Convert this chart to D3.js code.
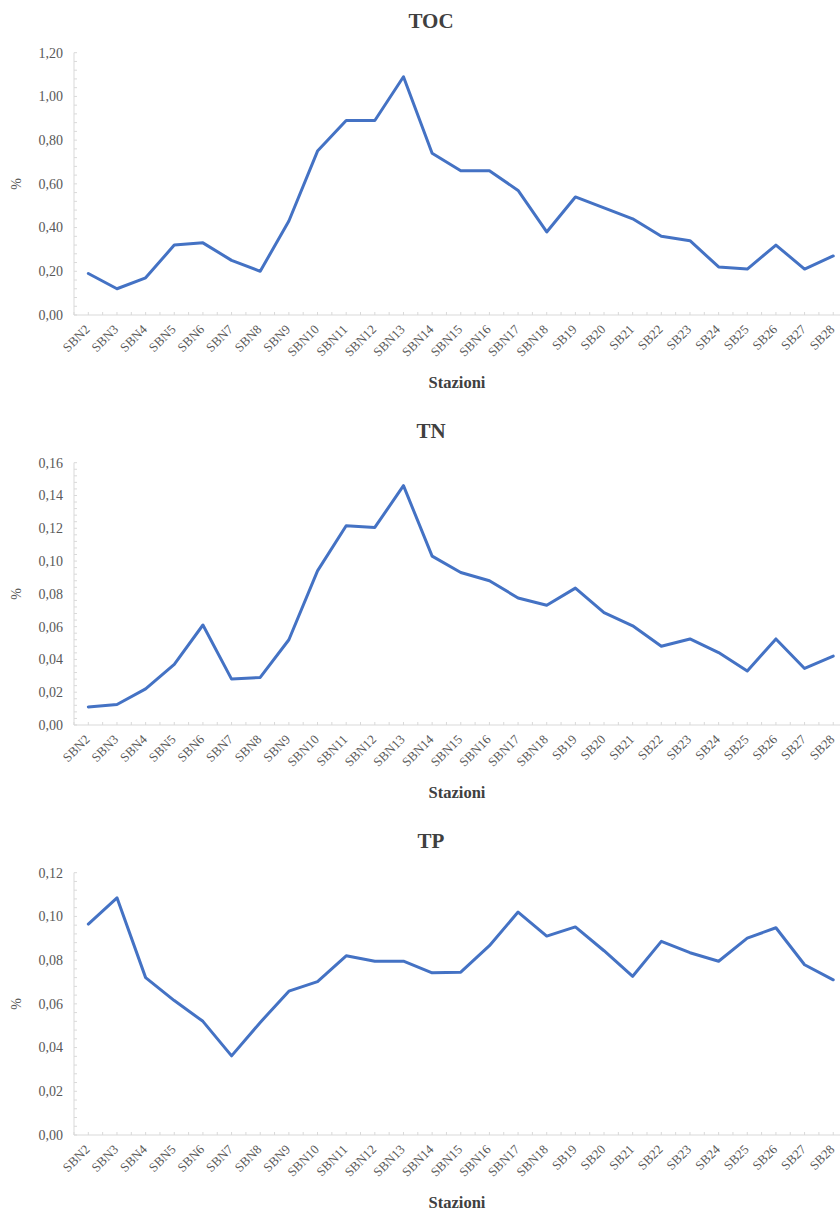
<!DOCTYPE html>
<html>
<head>
<meta charset="utf-8">
<script src="https://cdn.jsdelivr.net/npm/d3@7"></script>
<style>
  html, body { margin: 0; padding: 0; background: #fff; }
  svg { display: block; }
</style>
</head>
<body>
<div id="chart"></div>
<script>
const stations = ["SBN2","SBN3","SBN4","SBN5","SBN6","SBN7","SBN8","SBN9","SBN10","SBN11","SBN12","SBN13","SBN14","SBN15","SBN16","SBN17","SBN18","SB19","SB20","SB21","SB22","SB23","SB24","SB25","SB26","SB27","SB28"];

const tocValues = [0.19,0.12,0.17,0.32,0.33,0.25,0.20,0.43,0.75,0.89,0.89,1.09,0.74,0.66,0.66,0.57,0.38,0.54,0.49,0.44,0.36,0.34,0.22,0.21,0.32,0.21,0.27];
const tnValues  = [0.011,0.0125,0.022,0.037,0.061,0.028,0.029,0.052,0.094,0.1215,0.1205,0.146,0.103,0.093,0.088,0.0775,0.073,0.0835,0.0685,0.0605,0.048,0.0525,0.0442,0.033,0.0525,0.0345,0.042];
const tpValues  = [0.0965,0.1085,0.072,0.0615,0.052,0.0362,0.0515,0.0658,0.0702,0.082,0.0795,0.0795,0.0742,0.0745,0.0866,0.102,0.091,0.0952,0.0843,0.0726,0.0886,0.0834,0.0795,0.0901,0.0948,0.0779,0.071];

const tocTicks = [0,0.2,0.4,0.6,0.8,1.0,1.2];
const tnTicks  = [0,0.02,0.04,0.06,0.08,0.10,0.12,0.14,0.16];
const tpTicks  = [0,0.02,0.04,0.06,0.08,0.10,0.12];

const panels = [
  { title: "TOC", values: tocValues, ticks: tocTicks, max: 1.2 },
  { title: "TN",  values: tnValues,  ticks: tnTicks,  max: 0.16 },
  { title: "TP",  values: tpValues,  ticks: tpTicks,  max: 0.12 }
];

const W = 840, H = 1214;
const svg = d3.select("#chart").append("svg").attr("width", W).attr("height", H);

const FONT = "'Liberation Serif', 'Times New Roman', serif";
const lineColor = "#4472C4";
const axisColor = "#d9d9d9";
const labelColor = "#595959";

const left = 74, bandW = 28.65;
const x = d3.scalePoint().domain(stations).range([left + bandW/2, left + bandW*26.5]);
const fmt = v => v.toFixed(2).replace(".", ",");

panels.forEach((p, i) => {
  const off = i * 410;
  const top = 52.7 + off, bottom = 315 + off;
  const y = d3.scaleLinear().domain([0, p.max]).range([bottom, top]);
  const g = svg.append("g");

  // title
  g.append("text").attr("x", 431).attr("y", 28 + off)
    .attr("text-anchor", "middle").attr("font-family", FONT)
    .attr("font-weight", "bold").attr("font-size", 21).attr("fill", "#404040")
    .text(p.title);

  // y axis line
  g.append("line").attr("x1", left).attr("x2", left).attr("y1", top).attr("y2", bottom)
    .attr("stroke", axisColor).attr("stroke-width", 1);
  // y minor ticks
  const step = p.ticks[1] - p.ticks[0];
  const minor = d3.range(0, p.max + step/10, step/5);
  g.selectAll(".ym").data(minor).enter().append("line")
    .attr("x1", left).attr("x2", left + 3)
    .attr("y1", d => y(d)).attr("y2", d => y(d))
    .attr("stroke", axisColor).attr("stroke-width", 1);
  // y labels
  g.selectAll(".yl").data(p.ticks).enter().append("text")
    .attr("x", left - 11).attr("y", d => y(d)).attr("dy", "0.35em")
    .attr("text-anchor", "end").attr("font-family", FONT).attr("font-size", 14)
    .attr("fill", labelColor).text(fmt);

  // x axis line
  g.append("line").attr("x1", left).attr("x2", left + bandW*27).attr("y1", bottom).attr("y2", bottom)
    .attr("stroke", axisColor).attr("stroke-width", 1);
  // x ticks (band boundaries and centers)
  const xt = d3.range(0, 55).map(k => left + k * bandW/2);
  g.selectAll(".xt").data(xt).enter().append("line")
    .attr("x1", d => d).attr("x2", d => d).attr("y1", bottom).attr("y2", bottom - 3)
    .attr("stroke", axisColor).attr("stroke-width", 1);
  // x labels
  g.selectAll(".xl").data(stations).enter().append("text")
    .attr("transform", d => `translate(${x(d) - 1},${bottom + 12}) rotate(-45)`)
    .attr("text-anchor", "end").attr("dy", "0.35em")
    .attr("font-family", FONT).attr("font-size", 13).attr("fill", labelColor)
    .text(d => d);

  // axis titles
  g.append("text").attr("x", 457).attr("y", 388 + off)
    .attr("text-anchor", "middle").attr("font-family", FONT)
    .attr("font-weight", "bold").attr("font-size", 16.5).attr("fill", "#404040")
    .text("Stazioni");
  g.append("text").attr("transform", `translate(21,${(top + bottom)/2}) rotate(-90)`)
    .attr("text-anchor", "middle").attr("font-family", FONT)
    .attr("font-size", 14).attr("fill", labelColor)
    .text("%");

  // line
  const line = d3.line().x((d, k) => x(stations[k])).y(d => y(d));
  g.append("path").datum(p.values).attr("d", line)
    .attr("fill", "none").attr("stroke", lineColor).attr("stroke-width", 3)
    .attr("stroke-linejoin", "round").attr("stroke-linecap", "round");
});
</script>
</body>
</html>
